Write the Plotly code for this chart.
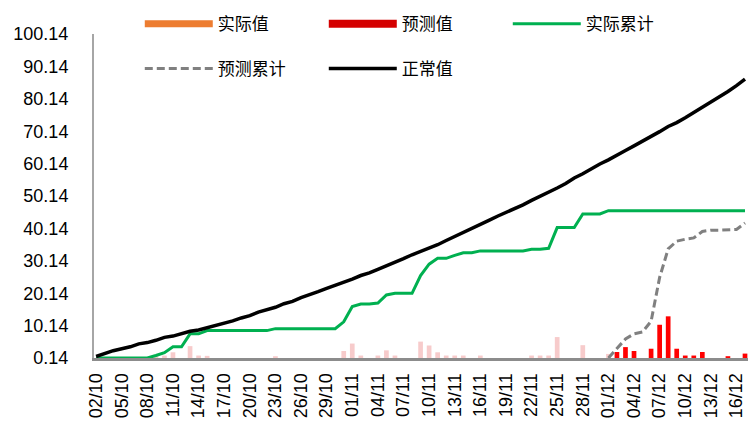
import plotly.graph_objects as go

# Daily categories 02/10 .. 17/12
categories = ([f"{d:02d}/10" for d in range(2, 32)]
              + [f"{d:02d}/11" for d in range(1, 31)]
              + [f"{d:02d}/12" for d in range(1, 18)])
x_tick_labels = categories[::3]

y_tick_values = [0.14, 10.14, 20.14, 30.14, 40.14, 50.14, 60.14, 70.14, 80.14, 90.14, 100.14]
y_tick_labels = ["0.14", "10.14", "20.14", "30.14", "40.14", "50.14",
                 "60.14", "70.14", "80.14", "90.14", "100.14"]

# 实际值 (02/10 .. 01/12)
actual_daily = [0, 0, 0, 0, 0, 0, 0, 0.9, 0.9, 1.9,
                0, 3.8, 0.9, 0.8, 0, 0, 0, 0, 0, 0,
                0, 0.7, 0, 0, 0, 0, 0, 0, 0, 2.3,
                4.6, 0.9, 0, 0.9, 2.5, 0.9, 0, 0, 5.2, 4.0,
                1.9, 0.9, 0.9, 0.9, 0, 0.9, 0, 0, 0, 0,
                0, 0.9, 0.9, 0.9, 6.6, 0, 0, 4.1, 0, 0,
                1.4] + [None] * 16

# 预测值 (02/12 .. 17/12)
forecast_daily = [None] * 61 + [2.0, 3.5, 2.3, 0, 3.0, 10.4, 13.0, 3.0,
                                0.9, 0.9, 2.0, 0, 0, 0.7, 0, 1.5]

# 实际累计
actual_cum = [0.14, 0.14, 0.14, 0.14, 0.14, 0.14, 0.14, 0.9, 1.8, 3.6,
              3.6, 7.6, 7.6, 8.6, 8.6, 8.6, 8.6, 8.6, 8.6, 8.6,
              8.6, 9.2, 9.2, 9.2, 9.2, 9.2, 9.2, 9.2, 9.2, 11.3,
              16.0, 16.8, 16.8, 17.1, 19.6, 20.1, 20.1, 20.1, 25.6, 29.1,
              30.9, 30.9, 31.8, 32.6, 32.6, 33.2, 33.2, 33.2, 33.2, 33.2,
              33.2, 33.7, 33.7, 34.0, 40.4, 40.4, 40.4, 44.6, 44.6, 44.6,
              45.6, 45.6, 45.6, 45.6, 45.6, 45.6, 45.6, 45.6, 45.6, 45.6,
              45.6, 45.6, 45.6, 45.6, 45.6, 45.6, 45.6]

# 预测累计
forecast_cum = [None] * 60 + [0.14, 3.0, 6.0, 7.6, 8.2, 11.5, 25.0, 33.8, 36.2,
                              36.8, 37.2, 39.2, 39.6, 39.6, 39.7, 39.8, 41.8]

# 正常值
normal_cum = [0.6, 1.5, 2.4, 3.0, 3.6, 4.5, 4.9, 5.6, 6.5, 6.9,
              7.6, 8.4, 8.8, 9.5, 10.3, 10.8, 11.6, 12.5, 13.2, 14.3,
              15.0, 15.8, 16.9, 17.6, 18.8, 19.6, 20.6, 21.6, 22.5, 23.6,
              24.5, 25.6, 26.4, 27.5, 28.6, 29.5, 30.8, 32.0, 33.0, 34.2,
              35.1, 36.4, 37.6, 38.9, 39.9, 41.3, 42.6, 43.9, 45.0, 46.3,
              47.4, 48.8, 50.0, 51.3, 52.6, 54.0, 55.7, 57.0, 58.6, 60.0,
              61.3, 62.9, 64.2, 65.6, 67.0, 68.6, 70.0, 71.6, 72.8, 74.3,
              75.9, 77.4, 79.0, 80.6, 82.4, 84.2, 86.2]

CJK = "Noto Sans CJK SC"
NUM = "Liberation Sans"

fig = go.Figure()

# bars (legend entries are drawn by the swatch traces below)
fig.add_bar(x=categories, y=actual_daily, marker_color="#F7CBCB",
            marker_line_width=0, width=0.55, showlegend=False, name="实际值")
fig.add_bar(x=categories, y=forecast_daily, marker_color="#FF0000",
            marker_line_width=0, width=0.55, showlegend=False, name="预测值")

# lines
fig.add_scatter(x=categories, y=actual_cum, mode="lines", name="实际累计",
                line=dict(color="#00B050", width=3), legend="legend", legendrank=3)
fig.add_scatter(x=categories, y=forecast_cum, mode="lines", name="预测累计",
                line=dict(color="#808080", width=3, dash="8px,4px"),
                legend="legend2", legendrank=1)
fig.add_scatter(x=categories, y=normal_cum, mode="lines", name="正常值",
                line=dict(color="#000000", width=3.5), legend="legend2", legendrank=2)

# wide legend swatches for the bar series
fig.add_scatter(x=[None], y=[None], mode="lines", name="实际值",
                line=dict(color="#ED7D31", width=7), legend="legend", legendrank=1)
fig.add_scatter(x=[None], y=[None], mode="lines", name="预测值",
                line=dict(color="#D40000", width=8), legend="legend", legendrank=2)

legend_common = dict(orientation="h", xanchor="left", yanchor="middle",
                     itemwidth=68, entrywidth=101, entrywidthmode="pixels",
                     font=dict(family=CJK, size=17, color="#000000"),
                     bgcolor="rgba(0,0,0,0)", itemclick=False)

fig.update_layout(
    width=748, height=435,
    margin=dict(l=94, r=0, t=34, b=77, autoexpand=False),
    paper_bgcolor="white", plot_bgcolor="white",
    barmode="overlay",
    legend=dict(x=0.07, y=1.03, **legend_common),
    legend2=dict(x=0.07, y=0.892, **legend_common),
    xaxis=dict(type="category", range=[-0.25, 76.35],
               tickmode="array", tickvals=x_tick_labels, ticktext=x_tick_labels,
               tickangle=-90, tickfont=dict(family=NUM, size=18, color="#000000"),
               showgrid=False, zeroline=False,
               showline=True, linecolor="#8C8C8C", linewidth=3,
               ticks="outside", ticklen=5, tickcolor="rgba(0,0,0,0)"),
    yaxis=dict(range=[0.14, 100.14], tickmode="array",
               tickvals=y_tick_values, ticktext=y_tick_labels,
               tickfont=dict(family=NUM, size=18, color="#000000"),
               showgrid=False, zeroline=False,
               showline=True, linecolor="#A6A6A6", linewidth=2,
               ticks="outside", ticklen=20, tickcolor="rgba(0,0,0,0)"),
)

fig.write_html("out.html")
